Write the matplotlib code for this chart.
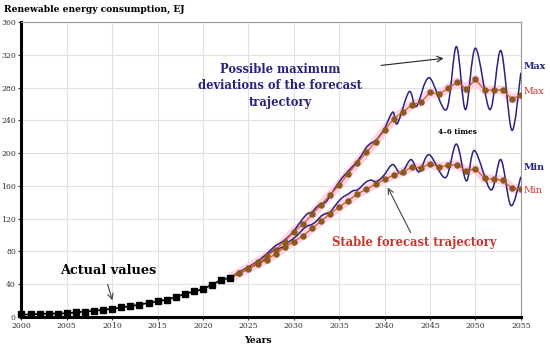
import numpy as np
import matplotlib.pyplot as plt
from matplotlib.path import Path
from matplotlib.patches import PathPatch

# ====================================
# DATA
# ====================================

# Actual values, 2000-2023
years_act = np.arange(2000, 2024)
actual = [3, 3, 3.5, 4, 4, 4.5, 5.5, 6.5, 7.5, 8.5, 10, 11.5, 13, 15, 17, 19,
          21, 24.5, 28, 31, 34, 39.5, 45, 48]

# Stable forecast trajectories, 2023-2055
years_fc = np.arange(2023, 2056)
stable_max = [48, 54, 60, 67, 74, 82, 92, 104, 113, 125, 137, 149, 161, 175, 188,
              201, 214, 228, 242, 250, 259, 262, 274, 272, 279, 287, 278, 290,
              277, 277, 277, 266, 271]
stable_min = [48, 53, 59, 64, 70, 77, 85, 92, 99, 108, 117, 126, 134, 142, 150,
              156, 162, 168, 173, 177, 183, 182, 187, 183, 185, 186, 178, 181,
              169, 168, 167, 157, 156]

# Possible maximum deviations (oscillating curves): read peaks / troughs
dev_max_x = [2023, 2024, 2025, 2026, 2026.7, 2027.5, 2028, 2028.5, 2029, 2029.6,
             2030.2, 2031, 2031.5, 2032, 2032.5, 2033, 2033.5, 2034, 2035, 2035.5,
             2036, 2036.5, 2037, 2037.5, 2038, 2038.5, 2039, 2039.5, 2040, 2040.9,
             2041.4, 2042.7, 2043.5, 2044.9, 2046.8, 2047.9, 2048.9, 2050, 2051.6,
             2052.8, 2054, 2055]
dev_max_y = [48, 55, 61, 68, 74, 82, 87, 90, 94, 100,
             108, 120, 126, 128, 134, 138, 140, 148, 165, 172,
             178, 184, 190, 198, 207, 212, 215, 222, 230, 250,
             236, 275, 257, 292, 253, 330, 253, 328, 253,
             325, 228, 298]

dev_min_x = [2023, 2024, 2025, 2026, 2026.8, 2027.5, 2028, 2028.5, 2029, 2029.5,
             2030, 2030.5, 2031, 2031.5, 2032, 2032.5, 2033, 2033.5, 2034, 2034.5,
             2035, 2035.5, 2036, 2036.5, 2037, 2037.5, 2038, 2038.5, 2039, 2039.5,
             2040, 2040.9, 2041.8, 2042.9, 2043.8, 2044.9, 2046.7, 2047.9, 2049,
             2049.9, 2051.7, 2052.8, 2053.9, 2055]
dev_min_y = [48, 53, 59, 65, 70, 79, 82, 84, 87, 92,
             96, 101, 107, 111, 113, 117, 123, 126, 128, 135,
             142, 147, 150, 154, 155, 160, 165, 167, 165, 168,
             174, 186, 175, 192, 177, 198, 170, 211, 166,
             203, 155, 192, 136, 171]

# ====================================
# HELPERS
# ====================================

def smooth_path(xs, ys):
    # Catmull-Rom through the points, drawn as cubic Bezier segments (like a smoothed line)
    p = np.column_stack([xs, ys]).astype(float)
    ext = np.vstack([p[0], p, p[-1]])
    verts = [p[0]]
    codes = [Path.MOVETO]
    for i in range(1, len(ext) - 2):
        c1 = ext[i] + (ext[i + 1] - ext[i - 1]) / 6
        c2 = ext[i + 1] - (ext[i + 2] - ext[i]) / 6
        verts += [c1, c2, ext[i + 1]]
        codes += [Path.CURVE4] * 3
    return Path(verts, codes)

navy = '#27247e'
red = '#c8372d'
serif = 'DejaVu Serif'

# ====================================
# PLOT
# ====================================

fig = plt.figure(figsize=(5.5, 3.49), dpi=100)
ax = fig.add_axes([0.039, 0.092, 0.908, 0.845])

ax.set_xlim(2000, 2055)
ax.set_ylim(0, 360)
ax.set_xticks(np.arange(2000, 2056, 5))
ax.set_yticks(np.arange(0, 361, 40))
ax.grid(True, color='#e0e0e0', lw=0.8)
ax.set_axisbelow(True)
for lab in ax.get_xticklabels() + ax.get_yticklabels():
    lab.set_family(serif)
ax.tick_params(labelsize=5.6, length=2.5, width=0.8, colors='#333333', pad=1.5)
ax.spines['left'].set_linewidth(2.2)
ax.spines['bottom'].set_linewidth(2.2)
ax.spines['right'].set_color('#999999')
ax.spines['top'].set_color('#999999')

# pink halo round the stable trajectories
for s in (stable_max, stable_min):
    ax.plot(years_fc, s, color='#ffd3e8', lw=6.5, solid_capstyle='butt', zorder=2)

# oscillating deviation curves
for xs, ys in ((dev_max_x, dev_max_y), (dev_min_x, dev_min_y)):
    ax.add_patch(PathPatch(smooth_path(xs, ys), fill=False, edgecolor=navy, lw=1.1, zorder=3))

# stable trajectories
for s in (stable_max, stable_min):
    ax.plot(years_fc, s, color='#e0612a', lw=1.0, marker='o', ms=3.6,
            mfc='#8a5a1c', mec='#8a5a1c', zorder=4)

# actual values
ax.plot(years_act, actual, color='black', lw=1.2, marker='s', ms=5, zorder=5, clip_on=False)

# ====================================
# TEXTS
# ====================================

fig.text(0.008, 0.974, 'Renewable energy consumption, EJ', family=serif,
         fontweight='bold', fontsize=6.6, va='center', ha='left')
fig.text(0.469, 0.023, 'Years', family=serif, fontweight='bold', fontsize=6.6,
         va='center', ha='center')

ax.text(2028.5, 282, 'Possible maximum\ndeviations of the forecast\ntrajectory',
        family=serif, fontweight='bold', fontsize=8.3, color=navy, ha='center',
        va='center', linespacing=1.35)
ax.annotate('', xy=(2046.8, 316), xytext=(2039.3, 306.6),
            arrowprops=dict(arrowstyle='->', color='#222222', lw=0.8))

ax.text(2048.0, 226, '4\u20136 times', family=serif, fontweight='bold',
        fontsize=5.2, ha='center', va='center')

ax.text(2043.2, 91, 'Stable forecast trajectory', family=serif, fontweight='bold',
        fontsize=8.3, color=red, ha='center', va='center')
ax.annotate('', xy=(2040.2, 161), xytext=(2043.0, 100),
            arrowprops=dict(arrowstyle='->', color='#444444', lw=0.8))

ax.text(2009.6, 57, 'Actual values', family=serif, fontweight='bold',
        fontsize=9.3, ha='center', va='center')
ax.annotate('', xy=(2010.1, 17), xytext=(2009.4, 43),
            arrowprops=dict(arrowstyle='->', color='#444444', lw=0.8))

for txt, yv, col in (('Max', 306, navy), ('Max', 275, red), ('Min', 182, navy), ('Min', 154, red)):
    ax.text(2055.3, yv, txt, family=serif, fontweight='bold' if col == navy else 'normal',
            fontsize=6.8, color=col, ha='left', va='center', clip_on=False)

fig.savefig('out.png', dpi=100)
